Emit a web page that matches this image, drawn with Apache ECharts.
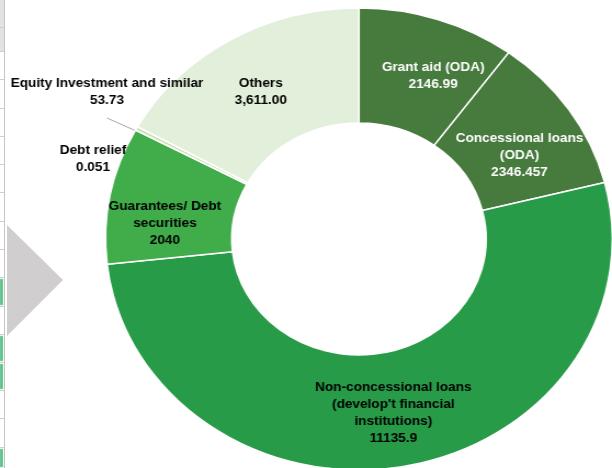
<!DOCTYPE html>
<html>
<head>
<meta charset="utf-8">
<title>Development finance by instrument</title>
<script src="https://cdn.jsdelivr.net/npm/echarts@6/dist/echarts.min.js"></script>
<style>
  html, body { margin: 0; padding: 0; background: #ffffff; overflow: hidden; }
  #decor { position: absolute; left: 0; top: 0; width: 612px; height: 468px; }
  /* the doughnut is drawn slightly wider than tall, as on the slide */
  #chart { position: absolute; left: 0; top: 0; width: 558px; height: 468px;
           transform: scaleX(1.096774); transform-origin: 0 0; }
</style>
</head>
<body>
<div id="decor"></div>
<div id="chart"></div>
<script>
// ---- data ----------------------------------------------------------
const categories = [
  'Grant aid (ODA)',
  'Concessional loans\n(ODA)',
  "Non-concessional loans\n(develop't financial\ninstitutions)",
  'Guarantees/ Debt\nsecurities',
  'Debt relief',
  'Equity Investment and similar',
  'Others'
];
const values = [2146.99, 2346.457, 11135.9, 2040, 0.051, 53.73, 3611.00];
const sliceColors = ['#477a3d', '#477a3d', '#289b49', '#40ad4a', '#a9d18e', '#c7e0b0', '#e2efda'];
const labelColors = ['#ffffff', '#ffffff', '#000000', '#000000', '#000000', '#000000', '#000000'];

// ---- layout --------------------------------------------------------
const SX = 612 / 558;              // horizontal stretch of the chart box
const PIE_CX = 327.3, PIE_CY = 239;
const R_IN = 116, R_OUT = 231;
const R_MID = (R_IN + R_OUT) / 2;

const LABEL_FONT = '"Liberation Sans", Arial, sans-serif';
const LABEL_SIZE = 12.4;

// small slices get their labels outside, joined by leader lines
const outsideLabels = {
  'Debt relief': { at: [93, 159], from: 'right' },
  'Equity Investment and similar': { at: [107, 92], from: 'below' }
};
// hand nudges for the inside labels (screen px)
const labelNudges = {
  'Grant aid (ODA)': [14, 5],
  'Concessional loans\n(ODA)': [0, 15],
  'Guarantees/ Debt\nsecurities': [-4, 18],
  'Others': [0, 5]
};

function formatValue(name, v) {
  if (name === 'Others') {
    return v.toLocaleString('en-US', { minimumFractionDigits: 2, maximumFractionDigits: 2 });
  }
  return String(v);
}

// mid angle of each slice, degrees clockwise from 12 o'clock
const total = values.reduce((a, b) => a + b, 0);
const midAngles = [];
let acc = 0;
values.forEach(v => {
  const a = v / total * 360;
  midAngles.push(acc + a / 2);
  acc += a;
});

// ---- slide furniture behind the chart -----------------------------
const decor = echarts.init(document.getElementById('decor'), null, { renderer: 'canvas' });
const rowLines = [27, 51, 79, 108, 136, 164, 192, 221, 249, 277, 306, 334, 362, 390, 418, 447];
const greenCells = [[278, 306], [335, 362], [363, 390], [448, 468]];
const decorEls = [
  { type: 'rect', shape: { x: 0, y: 0, width: 4, height: 51 }, style: { fill: '#e2e2e2' } }
];
rowLines.forEach(y => decorEls.push({
  type: 'line', shape: { x1: 0, y1: y + 0.5, x2: 4, y2: y + 0.5 },
  style: { stroke: '#cfcfcf', lineWidth: 1 }
}));
greenCells.forEach(c => decorEls.push({
  type: 'rect', shape: { x: 0, y: c[0] + 1, width: 3, height: c[1] - c[0] - 2 },
  style: { fill: '#5fc189', stroke: '#9fdcb7', lineWidth: 0.5 }
}));
decorEls.push({
  type: 'line', shape: { x1: 4.5, y1: 0, x2: 4.5, y2: 468 },
  style: { stroke: '#c4c4c4', lineWidth: 1 }
});
decorEls.push({
  type: 'polygon', shape: { points: [[7, 225], [63, 280], [7, 336]] },
  style: { fill: '#d0cece' }
});
decor.setOption({ animation: false, graphic: { elements: decorEls } });

// ---- doughnut ------------------------------------------------------
const chart = echarts.init(document.getElementById('chart'), null, { renderer: 'canvas' });

const pieData = categories.map((name, i) => {
  const item = {
    name: name,
    value: values[i],
    itemStyle: { color: sliceColors[i] },
    label: { color: labelColors[i] }
  };
  if (outsideLabels[name]) {
    item.label.position = 'outside';
    item.labelLine = { show: true, lineStyle: { color: '#a6a6a6', width: 1 } };
  }
  return item;
});

chart.setOption({
  animation: false,
  backgroundColor: 'transparent',
  series: [{
    type: 'pie',
    center: [PIE_CX, PIE_CY],
    radius: [R_IN, R_OUT],
    startAngle: 90,
    clockwise: true,
    avoidLabelOverlap: false,
    silent: true,
    itemStyle: { borderColor: '#ffffff', borderWidth: 1.5 },
    label: {
      show: true,
      position: 'inside',
      fontFamily: LABEL_FONT,
      fontWeight: 'bold',
      fontSize: LABEL_SIZE,
      lineHeight: 17,
      align: 'center',
      formatter: p => p.name + '\n' + formatValue(p.name, p.value)
    },
    labelLine: { show: false },
    labelLayout: function (p) {
      const name = categories[p.dataIndex];
      const out = outsideLabels[name];
      if (out) {
        const cx = out.at[0] / SX, cy = out.at[1];
        const w = p.labelRect.width, h = p.labelRect.height;
        const th = midAngles[p.dataIndex] * Math.PI / 180;
        const end = [PIE_CX + R_MID * Math.sin(th), PIE_CY - R_MID * Math.cos(th)];
        const start = out.from === 'below' ? [cx, cy + h / 2 + 9] : [cx + w / 2 + 3, cy - 2];
        const mid = [(start[0] + end[0]) / 2, (start[1] + end[1]) / 2];
        return { x: cx, y: cy, align: 'center', verticalAlign: 'middle', labelLinePoints: [start, mid, end] };
      }
      const n = labelNudges[name];
      return n ? { dx: n[0] / SX, dy: n[1] } : {};
    },
    data: pieData
  }]
});
</script>
</body>
</html>
